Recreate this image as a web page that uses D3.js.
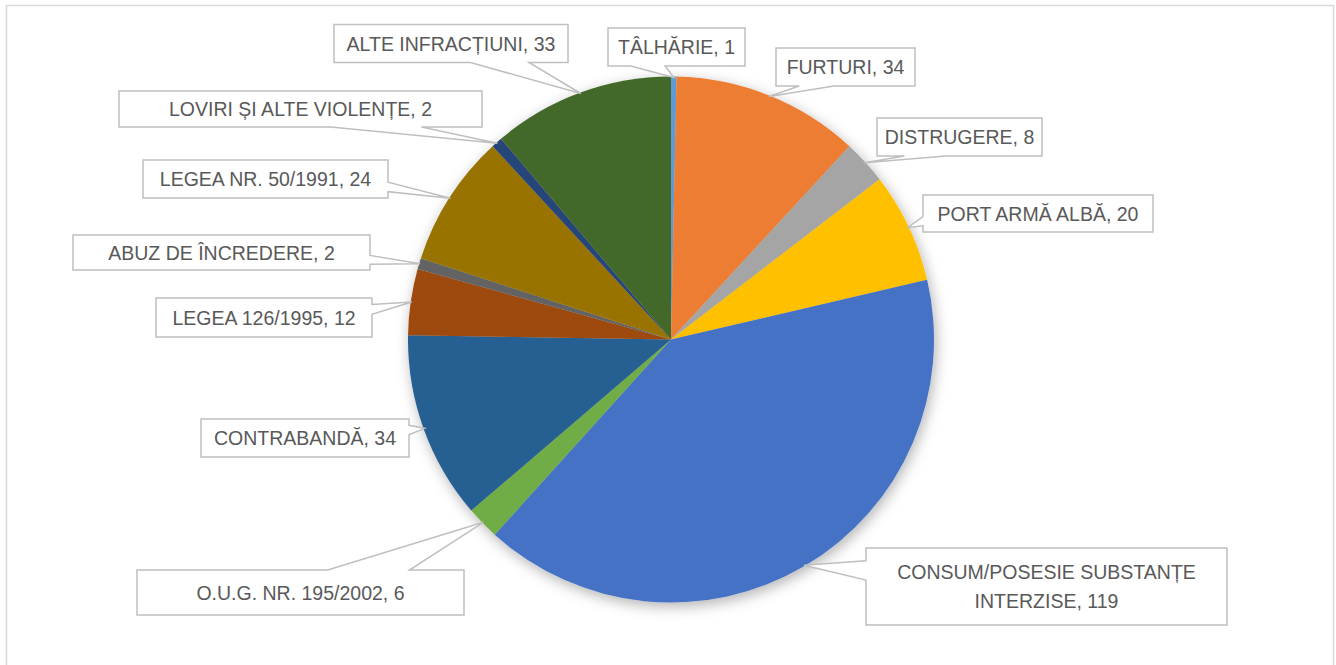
<!DOCTYPE html>
<html>
<head>
<meta charset="utf-8">
<script src="https://cdn.jsdelivr.net/npm/d3@7"></script>
<style>
  body { margin: 0; background: #fff; }
  text { font-family: "Liberation Sans", Arial, sans-serif; fill: #595959; }
</style>
</head>
<body>
<svg width="1336" height="665"></svg>
<script>
const categories = [
  "TÂLHĂRIE", "FURTURI", "DISTRUGERE", "PORT ARMĂ ALBĂ",
  "CONSUM/POSESIE SUBSTANȚE INTERZISE", "O.U.G. NR. 195/2002", "CONTRABANDĂ",
  "LEGEA 126/1995", "ABUZ DE ÎNCREDERE", "LEGEA NR. 50/1991",
  "LOVIRI ȘI ALTE VIOLENȚE", "ALTE INFRACȚIUNI"
];
const values = [1, 34, 8, 20, 119, 6, 34, 12, 2, 24, 2, 33];
const colors = [
  "#5B9BD5", "#ED7D31", "#A5A5A5", "#FFC000", "#4472C4", "#70AD47",
  "#255E91", "#9E480E", "#636363", "#997300", "#264478", "#43682B"
];
// text lines of each callout
const labelLines = [
  ["TÂLHĂRIE, 1"], ["FURTURI, 34"], ["DISTRUGERE, 8"], ["PORT ARMĂ ALBĂ, 20"],
  ["CONSUM/POSESIE SUBSTANȚE", "INTERZISE, 119"], ["O.U.G. NR. 195/2002, 6"],
  ["CONTRABANDĂ, 34"], ["LEGEA 126/1995, 12"], ["ABUZ DE ÎNCREDERE, 2"],
  ["LEGEA NR. 50/1991, 24"], ["LOVIRI ȘI ALTE VIOLENȚE, 2"], ["ALTE INFRACȚIUNI, 33"]
];
// callout boxes: center x, center y, width, height
const boxLayout = [
  [676.5, 47, 137, 38], [845.5, 67, 139, 38], [959.5, 137, 165, 38], [1038, 213.5, 230, 37],
  [1046.5, 586.5, 361, 77], [300.5, 592.5, 327, 45], [305, 438, 208, 38],
  [264, 317.5, 216, 39], [221.5, 252.5, 297, 35], [265.5, 179, 245, 38],
  [300.5, 109, 363, 36], [451, 43.5, 234, 38]
];

const svg = d3.select('svg');
const cx = 671, cy = 339.5, radius = 263;

// chart frame
svg.append('rect')
  .attr('x', 6.5).attr('y', 5.5)
  .attr('width', 1327).attr('height', 700)
  .attr('fill', 'none')
  .attr('stroke', '#d9d9d9')
  .attr('stroke-width', 1.5);

const defs = svg.append('defs');
const shadow = defs.append('filter').attr('id', 'shadow')
  .attr('x', '-20%').attr('y', '-20%').attr('width', '140%').attr('height', '140%');
shadow.append('feDropShadow')
  .attr('dx', 2).attr('dy', 4)
  .attr('stdDeviation', 7)
  .attr('flood-color', '#000')
  .attr('flood-opacity', 0.3);

const data = categories.map((c, i) => ({ name: c, value: values[i], idx: i }));

const pie = d3.pie().sort(null).value(d => d.value);
const arcs = pie(data);
const arc = d3.arc().innerRadius(0).outerRadius(radius);
const edge = d3.arc().innerRadius(radius - 1).outerRadius(radius - 1);

const g = svg.append('g').attr('transform', `translate(${cx},${cy})`);

g.append('g')
  .attr('filter', 'url(#shadow)')
  .selectAll('path')
  .data(arcs)
  .enter().append('path')
    .attr('d', arc)
    .attr('fill', d => colors[d.data.idx]);

// wedge callout path, like the office wedgeRectCallout shape
const calloutPath = (box, tip) => {
  const [bx, by, w, h] = box;
  const l = bx - w / 2, r = bx + w / 2, t = by - h / 2, b = by + h / 2;
  const [tx, ty] = tip;
  const dx = tx - bx, dy = ty - by;
  const dq = dx * h / w;
  const xa = l + w * (dx > 0 ? 7 : 2) / 12, xb = l + w * (dx > 0 ? 10 : 5) / 12;
  const ya = t + h * (dy > 0 ? 7 : 2) / 12, yb = t + h * (dy > 0 ? 10 : 5) / 12;
  let pts;
  if (Math.abs(dy) > Math.abs(dq)) {
    if (dy < 0) pts = [[l, t], [xa, t], [tx, ty], [xb, t], [r, t], [r, b], [l, b]];
    else pts = [[l, t], [r, t], [r, b], [xb, b], [tx, ty], [xa, b], [l, b]];
  } else {
    if (dx > 0) pts = [[l, t], [r, t], [r, ya], [tx, ty], [r, yb], [r, b], [l, b]];
    else pts = [[l, t], [r, t], [r, b], [l, b], [l, yb], [tx, ty], [l, ya]];
  }
  return 'M' + pts.map(p => p.join(',')).join('L') + 'Z';
};

const labels = svg.append('g').selectAll('g')
  .data(arcs)
  .enter().append('g');

labels.append('path')
  .attr('d', d => {
    const c = edge.centroid(d);
    return calloutPath(boxLayout[d.data.idx], [cx + c[0], cy + c[1]]);
  })
  .attr('fill', '#fff')
  .attr('stroke', '#bfbfbf')
  .attr('stroke-width', 1.5)
  .attr('stroke-linejoin', 'miter');

labels.each(function(d) {
  const [bx, by] = boxLayout[d.data.idx];
  const lines = labelLines[d.data.idx];
  const lh = 29;
  const t = d3.select(this).append('text')
    .attr('text-anchor', 'middle')
    .attr('font-size', 19.5);
  lines.forEach((ln, k) => {
    t.append('tspan')
      .attr('x', bx)
      .attr('y', by + (k - (lines.length - 1) / 2) * lh)
      .attr('dy', '0.36em')
      .text(ln);
  });
});
</script>
</body>
</html>
